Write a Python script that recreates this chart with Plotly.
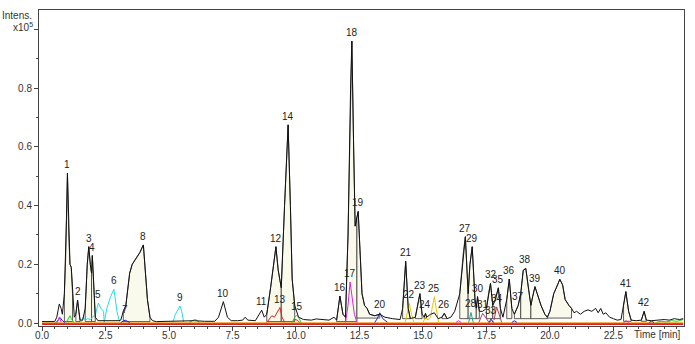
import plotly.graph_objects as go

# ---------------- data ----------------
# black trace (base peak chromatogram), time [min] / intensity [x1e5]
bpc_t = [0.0, 0.3, 0.5, 0.58, 0.68, 0.75, 0.8, 0.88, 0.93, 0.96, 1.0, 1.05, 1.1, 1.15, 1.2, 1.27,
         1.33, 1.4, 1.45, 1.5, 1.6, 1.7, 1.78, 1.84, 1.9, 1.95, 1.98, 2.03, 2.1, 2.2, 2.6, 3.0,
         3.1, 3.2, 3.3, 3.45, 3.55, 3.7, 3.85, 3.99, 4.05, 4.15, 4.25, 4.35, 4.5, 5.0, 5.5, 6.0,
         6.4, 6.8, 6.95, 7.14, 7.3, 7.45, 7.7, 7.9, 8.0, 8.1, 8.4, 8.55, 8.65, 8.75, 8.85, 9.0,
         9.21, 9.3, 9.42, 9.55, 9.69, 9.78, 9.85, 9.95, 10.1, 10.3, 10.6, 10.8, 11.0, 11.3, 11.5,
         11.6, 11.73, 11.85, 11.95, 12.05, 12.15, 12.2, 12.27, 12.33, 12.4, 12.45, 12.52, 12.6,
         12.7, 12.8, 12.9, 13.1, 13.3, 13.5, 13.8, 14.1, 14.2, 14.32, 14.42, 14.5, 14.7, 14.88,
         14.97, 15.05, 15.1, 15.15, 15.3, 15.45, 15.6, 15.75, 15.84, 15.95, 16.1, 16.25, 16.45,
         16.6, 16.67, 16.78, 16.85, 16.94, 17.05, 17.1, 17.15, 17.22, 17.35, 17.5, 17.6, 17.66,
         17.75, 17.85, 17.97, 18.05, 18.15, 18.3, 18.4, 18.5, 18.6, 18.75, 18.85, 18.95, 19.05,
         19.15, 19.25, 19.32, 19.41, 19.5, 19.65, 19.8, 19.9, 20.0, 20.15, 20.3, 20.39, 20.5,
         20.6, 20.75, 20.85, 20.95, 21.05, 21.2, 21.35, 21.5, 21.65, 21.8, 21.9, 22.0, 22.1,
         22.2, 22.35, 22.5, 22.65, 22.8, 22.9, 22.99, 23.1, 23.2, 23.4, 23.6, 23.71, 23.8, 24.0,
         24.3, 24.5, 24.7, 24.9, 25.1, 25.25]
bpc_h = [0.005, 0.005, 0.005, 0.02, 0.065, 0.05, 0.03, 0.1, 0.22, 0.35, 0.51, 0.3, 0.2, 0.19, 0.1, 0.02,
         0.03, 0.078, 0.04, 0.01, 0.01, 0.05, 0.2, 0.26, 0.2, 0.17, 0.23, 0.15, 0.02, 0.008, 0.007, 0.008,
         0.01, 0.04, 0.06, 0.17, 0.2, 0.22, 0.24, 0.266, 0.2, 0.08, 0.02, 0.008, 0.005, 0.006, 0.007, 0.008,
         0.006, 0.006, 0.02, 0.073, 0.02, 0.008, 0.008, 0.01, 0.02, 0.01, 0.008, 0.03, 0.044, 0.02, 0.03, 0.12,
         0.26, 0.18, 0.12, 0.4, 0.675, 0.4, 0.15, 0.06, 0.02, 0.012, 0.01, 0.014, 0.012, 0.01, 0.02,
         0.01, 0.092, 0.03, 0.02, 0.3, 0.8, 0.96, 0.6, 0.33, 0.36, 0.38, 0.25, 0.1,
         0.06, 0.05, 0.03, 0.025, 0.03, 0.02, 0.015, 0.012, 0.05, 0.21, 0.05, 0.015, 0.02, 0.1,
         0.03, 0.02, 0.033, 0.02, 0.03, 0.035, 0.015, 0.02, 0.033, 0.015, 0.02, 0.04, 0.1,
         0.25, 0.294, 0.1, 0.2, 0.26, 0.08, 0.05, 0.09, 0.04, 0.04, 0.05, 0.11, 0.135,
         0.06, 0.08, 0.12, 0.05, 0.02, 0.08, 0.15, 0.05, 0.03, 0.06, 0.1, 0.18, 0.186,
         0.12, 0.06, 0.09, 0.124, 0.1, 0.06, 0.03, 0.02, 0.04, 0.1, 0.13, 0.149, 0.13,
         0.08, 0.06, 0.05, 0.035, 0.04, 0.03, 0.04, 0.045, 0.04, 0.05, 0.035, 0.05, 0.03,
         0.035, 0.02, 0.015, 0.01, 0.012, 0.06, 0.107, 0.04, 0.01, 0.008, 0.01, 0.04, 0.01, 0.008,
         0.01, 0.012, 0.01, 0.015, 0.012, 0.015]

# integrated peak regions (start, end, baseline)
fill_start = [0.88, 1.33, 1.7, 1.95, 3.2, 8.85, 9.42, 11.6, 11.95, 12.4, 14.2, 14.7, 15.05, 15.75,
              16.45, 16.78, 17.1, 17.5, 17.75, 18.3, 18.6, 18.85, 19.25, 19.9, 22.9, 23.6]
fill_end = [1.2, 1.5, 1.95, 2.1, 4.25, 9.42, 9.95, 11.95, 12.4, 13.3, 14.5, 14.97, 15.15, 15.95,
            16.78, 17.1, 17.22, 17.75, 18.05, 18.5, 18.85, 19.25, 19.9, 20.85, 23.2, 23.8]
fill_base = [0.005, 0.005, 0.005, 0.005, 0.005, 0.005, 0.005, 0.005, 0.005, 0.017, 0.015, 0.015, 0.015, 0.015,
             0.015, 0.015, 0.015, 0.015, 0.015, 0.015, 0.015, 0.015, 0.015, 0.017, 0.006, 0.006]

# extracted ion traces
red_t = [8.85, 8.95, 9.05, 9.15, 9.25, 9.37, 9.45, 9.55, None, 9.85, 9.95, 10.05, 10.15]
red_h = [0.002, 0.015, 0.025, 0.02, 0.035, 0.053, 0.02, 0.003, None, 0.003, 0.012, 0.01, 0.002]
blue_t = [0.55, 0.65, 0.72, 0.8, 0.9, None, 3.1, 3.27, 3.45, None, 13.1, 13.2, 13.3, 13.42, 13.6, None,
          17.6, 17.7, 17.8, None, 18.5, 18.6, 18.7, None, 23.9, 24.0, 24.1]
blue_h = [0.002, 0.012, 0.018, 0.008, 0.002, None, 0.002, 0.01, 0.002, None, 0.002, 0.015, 0.035, 0.015, 0.003, None,
          0.002, 0.01, 0.002, None, 0.002, 0.008, 0.002, None, 0.002, 0.006, 0.002]
green_t = [0.95, 1.05, 1.1, 1.15, 1.25, None, 5.8, 5.95, 6.05, 6.2, None, 9.85, 9.95, 10.03, 10.1, 10.2, None,
           24.2, 24.4, 24.6, 24.8, 25.0, 25.25]
green_h = [0.002, 0.018, 0.025, 0.015, 0.002, None, 0.002, 0.01, 0.012, 0.002, None, 0.002, 0.02, 0.027, 0.02, 0.002, None,
           0.003, 0.006, 0.004, 0.008, 0.006, 0.012]
magenta_t = [0.6, 0.68, 0.75, None, 11.95, 12.05, 12.13, 12.2, 12.3, 12.4, None, 16.3, 16.4, 16.5, None, 22.9, 23.0, 23.1]
magenta_h = [0.002, 0.02, 0.004, None, 0.002, 0.06, 0.14, 0.1, 0.03, 0.002, None, 0.002, 0.008, 0.002, None, 0.002, 0.008, 0.002]
cyan_t = [1.55, 1.62, 1.7, 1.8, 1.9, 2.0, 2.1, 2.22, 2.32, 2.42, 2.45, 2.55, 2.7, 2.83, 2.95, 3.05, None,
          5.15, 5.25, 5.35, 5.43, 5.5, 5.58]
cyan_h = [0.002, 0.02, 0.01, 0.015, 0.012, 0.02, 0.03, 0.068, 0.05, 0.04, 0.003, 0.05, 0.09, 0.115, 0.04, 0.003, None,
          0.003, 0.03, 0.045, 0.058, 0.04, 0.003]
gold_t = [14.3, 14.38, 14.46, 14.55, 14.65, None, 15.0, 15.1, 15.2, 15.3, 15.38, 15.45, 15.52, 15.62]
gold_h = [0.002, 0.04, 0.067, 0.03, 0.002, None, 0.002, 0.02, 0.01, 0.02, 0.06, 0.09, 0.05, 0.002]
teal_t = [16.8, 16.89, 16.98]
teal_h = [0.002, 0.036, 0.002]
rose_t = [17.2, 17.35, 17.5, 17.6, None, 17.8, 17.9, 18.0, 18.1]
rose_h = [0.002, 0.033, 0.015, 0.002, None, 0.01, 0.055, 0.03, 0.002]
purple_t = [17.6, 17.68, 17.75]
purple_h = [0.002, 0.015, 0.002]
base_t = [0.0, 25.25]
base_red = [-0.003, -0.003]
base_orange = [0.001, 0.001]

# peak labels
peak_labels = [str(i) for i in range(1, 43)]
peak_t = [1.0, 1.4, 1.84, 1.98, 2.22, 2.83, 3.27, 3.99, 5.43, 7.14, 8.65, 9.21, 9.37, 9.69, 10.03,
          11.73, 12.13, 12.2, 12.45, 13.3, 14.32, 14.46, 14.88, 15.1, 15.45, 15.84, 16.67, 16.89,
          16.94, 17.15, 17.35, 17.66, 17.68, 17.9, 17.97, 18.4, 18.75, 19.02, 19.41, 20.39, 22.99, 23.71]
peak_h = [0.51, 0.078, 0.26, 0.23, 0.068, 0.115, 0.016, 0.266, 0.058, 0.073, 0.044, 0.26, 0.053, 0.675, 0.027,
          0.092, 0.14, 0.96, 0.38, 0.035, 0.21, 0.067, 0.1, 0.033, 0.09, 0.033, 0.294, 0.036,
          0.26, 0.09, 0.033, 0.135, 0.015, 0.055, 0.12, 0.15, 0.06, 0.186, 0.124, 0.149, 0.107, 0.04]

x_ticks = [0.0, 2.5, 5.0, 7.5, 10.0, 12.5, 15.0, 17.5, 20.0, 22.5]
y_ticks = [0.0, 0.2, 0.4, 0.6, 0.8, 1.0]
y_ticktext = ["0.0", "0.2", "0.4", "0.6", "0.8", ""]

# ---------------- figure ----------------
fig = go.Figure()
FONT = "Arial, Liberation Sans, sans-serif"

# filled integration regions
for s, e, b in zip(fill_start, fill_end, fill_base):
    xs = [t for t in bpc_t if s <= t <= e]
    ys = [h for t, h in zip(bpc_t, bpc_h) if s <= t <= e]
    px = [xs[0]] + xs + [xs[-1], xs[0]]
    py = [b] + ys + [b, b]
    fig.add_trace(go.Scatter(x=px, y=py, mode="lines", fill="toself",
                             fillcolor="#FAFAEC", line=dict(color="#333333", width=0.8),
                             hoverinfo="skip", showlegend=False))

fig.add_trace(go.Scatter(x=base_t, y=base_red, mode="lines",
                         line=dict(color="#E02020", width=2), showlegend=False))
fig.add_trace(go.Scatter(x=base_t, y=base_orange, mode="lines",
                         line=dict(color="#E8A020", width=1), showlegend=False))

for xs, ys, col in [(red_t, red_h, "#E02020"), (blue_t, blue_h, "#2020E0"), (green_t, green_h, "#20D020"),
                    (magenta_t, magenta_h, "#E020E0"), (cyan_t, cyan_h, "#20E0E0"), (gold_t, gold_h, "#E8C800"),
                    (teal_t, teal_h, "#20A0A0"), (rose_t, rose_h, "#B04070"), (purple_t, purple_h, "#6040A0")]:
    fig.add_trace(go.Scatter(x=xs, y=ys, mode="lines", line=dict(color=col, width=1),
                             connectgaps=False, showlegend=False))

fig.add_trace(go.Scatter(x=bpc_t, y=bpc_h, mode="lines",
                         line=dict(color="#111111", width=1), showlegend=False))

for lab, t, h in zip(peak_labels, peak_t, peak_h):
    fig.add_annotation(x=t, y=h, text=lab, showarrow=False, yanchor="bottom", yshift=1,
                       font=dict(family=FONT, size=10, color="#222222"))

fig.add_annotation(xref="paper", yref="paper", x=0, y=0.9826, xanchor="right", xshift=-5,
                   yanchor="middle", text="Intens.", showarrow=False,
                   font=dict(family=FONT, size=10, color="#333333"))
fig.add_annotation(xref="paper", yref="paper", x=0, y=0.946, xanchor="right", xshift=-4,
                   yanchor="middle", text="x10<sup>5</sup>", showarrow=False,
                   font=dict(family=FONT, size=10, color="#333333"))
fig.add_annotation(xref="paper", yref="paper", x=1, y=0, xanchor="right", yanchor="top",
                   xshift=-1, yshift=-1, text="Time [min]", showarrow=False,
                   font=dict(family=FONT, size=10, color="#333333"))

fig.update_layout(
    width=695, height=344,
    margin=dict(l=39, r=11, t=10, b=18, autoexpand=False),
    paper_bgcolor="white", plot_bgcolor="white",
    font=dict(family=FONT, size=10, color="#333333"),
    xaxis=dict(range=[-0.12, 25.28], tickvals=x_ticks, ticktext=[f"{v:.1f}" for v in x_ticks],
               ticks="outside", ticklen=4, tickcolor="#444", showgrid=False, zeroline=False,
               showline=True, linecolor="#444", linewidth=1, mirror=True, automargin=False,
               ticklabelstandoff=-4,
               minor=dict(dtick=0.5, ticks="outside", ticklen=2, tickcolor="#444"),
               tickfont=dict(size=10)),
    yaxis=dict(range=[-0.01, 1.066], tickvals=y_ticks, ticktext=y_ticktext,
               ticks="outside", ticklen=4, tickcolor="#444", showgrid=False, zeroline=False,
               showline=True, linecolor="#444", linewidth=1, mirror=True, automargin=False,
               minor=dict(dtick=0.1, ticks="outside", ticklen=2, tickcolor="#444"),
               tickfont=dict(size=10)),
)

fig.write_html("out.html")
